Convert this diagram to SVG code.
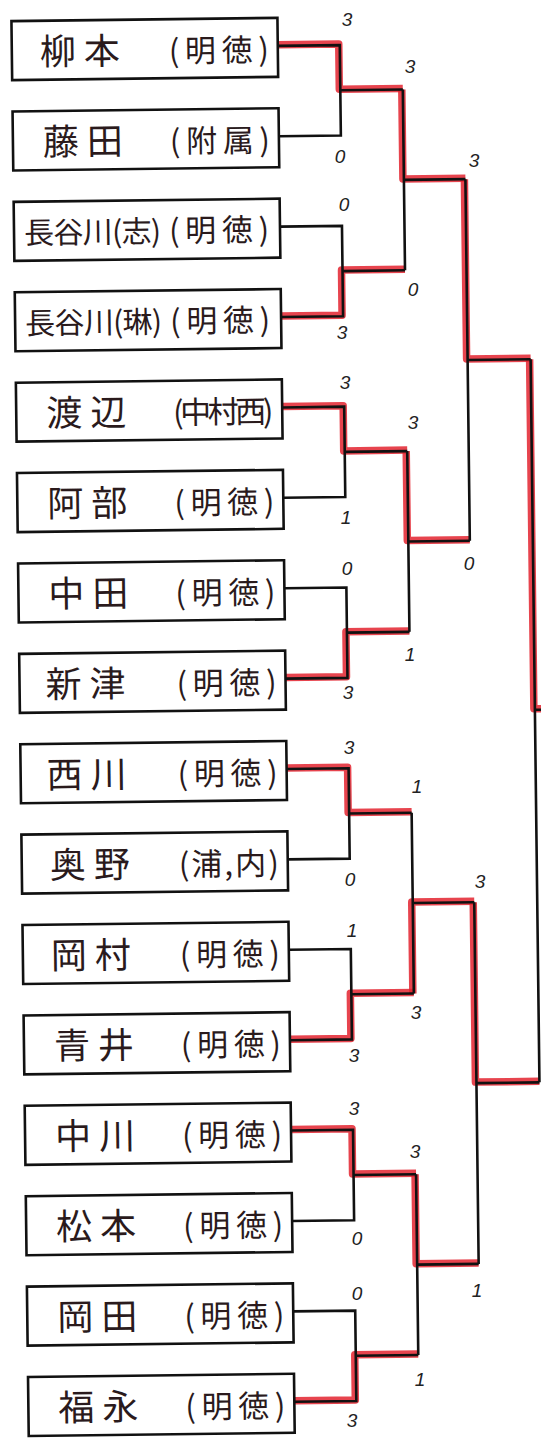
<svg xmlns="http://www.w3.org/2000/svg" width="541" height="1438" viewBox="0 0 541 1438">
<style>
.box{fill:#fff;stroke:#111;stroke-width:2.6}
.name{font-family:"Noto Sans CJK JP","Noto Sans CJK SC",sans-serif;font-size:36px;letter-spacing:8px;fill:#2a1a1c}
.name2{font-family:"Noto Sans CJK JP","Noto Sans CJK SC",sans-serif;font-size:30px;fill:#2a1a1c}
.aff{font-family:"Noto Sans CJK JP","Noto Sans CJK SC",sans-serif;font-size:31px;fill:#2a1a1c}
.red{fill:none;stroke:#e3232f;stroke-width:7.5;stroke-opacity:0.85;stroke-linejoin:round}
.blk{fill:none;stroke:#111;stroke-width:2.6}
.sc{font-family:"Liberation Sans",sans-serif;font-size:19px;fill:#222;text-anchor:middle;font-style:italic}
</style>
<rect x="0" y="0" width="541" height="1438" fill="#fff"/>
<g transform="rotate(-0.7 270 720)">
<g id="connectors">
<g id="winners">
<path class="red" d="M286 45 H347 V90.2 H410.5"/>
<path class="red" d="M286 316.2 H347 V271 H410.5"/>
<path class="red" d="M286 406.6 H347 V451.8 H410.5"/>
<path class="red" d="M286 677.8 H347 V632.6 H410.5"/>
<path class="red" d="M286 768.2 H347 V813.4 H410.5"/>
<path class="red" d="M286 1039.4 H347 V994.2 H410.5"/>
<path class="red" d="M286 1129.8 H347 V1175 H410.5"/>
<path class="red" d="M286 1401 H347 V1355.8 H410.5"/>
<path class="red" d="M409.5 91.2 V180.6 H472"/>
<path class="red" d="M409.5 452.8 V542.2 H472"/>
<path class="red" d="M409.5 995.2 V903.8 H472"/>
<path class="red" d="M409.5 1176 V1265.4 H472"/>
<path class="red" d="M471 181.6 V361.4 H535"/>
<path class="red" d="M471 904.8 V1084.6 H535"/>
<path class="red" d="M534 362.4 V712 H546"/>
</g>
<g id="lines">
<path class="blk" d="M286 46 H348 V136.4 H286 M348 91.2 H410.5"/>
<path class="blk" d="M286 226.8 H348 V317.2 H286 M348 272 H410.5"/>
<path class="blk" d="M286 407.6 H348 V498 H286 M348 452.8 H410.5"/>
<path class="blk" d="M286 588.4 H348 V678.8 H286 M348 633.6 H410.5"/>
<path class="blk" d="M286 769.2 H348 V859.6 H286 M348 814.4 H410.5"/>
<path class="blk" d="M286 950 H348 V1040.4 H286 M348 995.2 H410.5"/>
<path class="blk" d="M286 1130.8 H348 V1221.2 H286 M348 1176 H410.5"/>
<path class="blk" d="M286 1311.6 H348 V1402 H286 M348 1356.8 H410.5"/>
<path class="blk" d="M410.5 91.2 V272 M410.5 181.6 H472"/>
<path class="blk" d="M410.5 452.8 V633.6 M410.5 543.2 H472"/>
<path class="blk" d="M410.5 814.4 V995.2 M410.5 904.8 H472"/>
<path class="blk" d="M410.5 1176 V1356.8 M410.5 1266.4 H472"/>
<path class="blk" d="M472 181.6 V543.2 M472 362.4 H535"/>
<path class="blk" d="M472 904.8 V1266.4 M472 1085.6 H535"/>
<path class="blk" d="M535 362.4 V1085.6 M535 713 H546"/>
</g>
</g>
<g id="n1"><rect class="box" x="20" y="18" width="266" height="59"/><text class="name" x="48" y="62">柳本</text><text class="aff" x="177" y="61" textLength="100">(明徳)</text></g>
<g id="n2"><rect class="box" x="20" y="108.4" width="266" height="59"/><text class="name" x="50" y="152.4">藤田</text><text class="aff" x="177" y="151.4" textLength="100">(附属)</text></g>
<g id="n3"><rect class="box" x="20" y="198.8" width="266" height="59"/><text class="name2" x="30" y="240.8" textLength="137">長谷川(志)</text><text class="aff" x="175" y="240.8" textLength="100">(明徳)</text></g>
<g id="n4"><rect class="box" x="20" y="289.2" width="266" height="59"/><text class="name2" x="30" y="331.2" textLength="137">長谷川(琳)</text><text class="aff" x="175" y="331.2" textLength="100">(明徳)</text></g>
<g id="n5"><rect class="box" x="20" y="379.6" width="266" height="59"/><text class="name" x="50" y="423.6">渡辺</text><text class="aff" x="177" y="422.6" textLength="100">(中村西)</text></g>
<g id="n6"><rect class="box" x="20" y="470" width="266" height="59"/><text class="name" x="50" y="514">阿部</text><text class="aff" x="177" y="513" textLength="100">(明徳)</text></g>
<g id="n7"><rect class="box" x="20" y="560.4" width="266" height="59"/><text class="name" x="50" y="604.4">中田</text><text class="aff" x="177" y="603.4" textLength="100">(明徳)</text></g>
<g id="n8"><rect class="box" x="20" y="650.8" width="266" height="59"/><text class="name" x="46" y="694.8">新津</text><text class="aff" x="177" y="693.8" textLength="100">(明徳)</text></g>
<g id="n9"><rect class="box" x="20" y="741.2" width="266" height="59"/><text class="name" x="46" y="785.2">西川</text><text class="aff" x="177" y="784.2" textLength="100">(明徳)</text></g>
<g id="n10"><rect class="box" x="20" y="831.6" width="266" height="59"/><text class="name" x="48" y="875.6">奥野</text><text class="aff" x="177" y="874.6" textLength="100">(浦,内)</text></g>
<g id="n11"><rect class="box" x="20" y="922" width="266" height="59"/><text class="name" x="48" y="966">岡村</text><text class="aff" x="177" y="965" textLength="100">(明徳)</text></g>
<g id="n12"><rect class="box" x="20" y="1012.4" width="266" height="59"/><text class="name" x="50" y="1056.4">青井</text><text class="aff" x="177" y="1055.4" textLength="100">(明徳)</text></g>
<g id="n13"><rect class="box" x="20" y="1102.8" width="266" height="59"/><text class="name" x="50" y="1146.8">中川</text><text class="aff" x="177" y="1145.8" textLength="100">(明徳)</text></g>
<g id="n14"><rect class="box" x="20" y="1193.2" width="266" height="59"/><text class="name" x="50" y="1237.2">松本</text><text class="aff" x="177" y="1236.2" textLength="100">(明徳)</text></g>
<g id="n15"><rect class="box" x="20" y="1283.6" width="266" height="59"/><text class="name" x="50" y="1327.6">岡田</text><text class="aff" x="177" y="1326.6" textLength="100">(明徳)</text></g>
<g id="n16"><rect class="box" x="20" y="1374" width="266" height="59"/><text class="name" x="50" y="1418">福永</text><text class="aff" x="177" y="1417" textLength="100">(明徳)</text></g>
</g>
<g id="scores">
<text class="sc" x="347" y="26">3</text>
<text class="sc" x="340" y="163">0</text>
<text class="sc" x="344" y="211">0</text>
<text class="sc" x="342" y="339">3</text>
<text class="sc" x="410" y="73">3</text>
<text class="sc" x="413" y="296">0</text>
<text class="sc" x="474" y="167">3</text>
<text class="sc" x="469" y="570">0</text>
<text class="sc" x="345" y="389">3</text>
<text class="sc" x="346" y="524">1</text>
<text class="sc" x="413" y="429">3</text>
<text class="sc" x="410" y="661">1</text>
<text class="sc" x="347" y="575">0</text>
<text class="sc" x="348" y="699">3</text>
<text class="sc" x="349" y="754">3</text>
<text class="sc" x="350" y="886">0</text>
<text class="sc" x="417" y="793">1</text>
<text class="sc" x="416" y="1019">3</text>
<text class="sc" x="352" y="937">1</text>
<text class="sc" x="354" y="1062">3</text>
<text class="sc" x="480" y="888">3</text>
<text class="sc" x="477" y="1297">1</text>
<text class="sc" x="354" y="1115">3</text>
<text class="sc" x="357" y="1245">0</text>
<text class="sc" x="415" y="1158">3</text>
<text class="sc" x="420" y="1386">1</text>
<text class="sc" x="357" y="1300">0</text>
<text class="sc" x="352" y="1427">3</text>
</g>
</svg>
